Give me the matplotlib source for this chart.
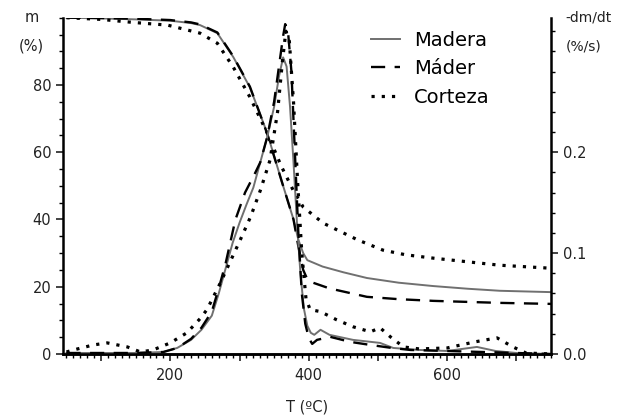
import matplotlib
matplotlib.use("Agg")
import matplotlib.pyplot as plt
from matplotlib.ticker import MultipleLocator, FixedLocator, FuncFormatter
from matplotlib.lines import Line2D

# ---- Data ----
# TGA mass curves (m, %)
madera_tga_T = [50, 100, 150, 200, 230, 243, 268, 291, 315, 340, 360, 378, 385, 392, 398,
                420, 450, 484, 530, 580, 630, 676, 750]
madera_tga_m = [100, 99.8, 99.5, 99.1, 98.4, 97.8, 95.4, 88.3, 79.3, 65.7, 52, 40, 34, 30, 27.9,
                26.0, 24.3, 22.6, 21.2, 20.2, 19.4, 18.8, 18.4]

mader_tga_T = [50, 100, 150, 200, 230, 243, 268, 291, 315, 340, 360, 378, 385, 392, 398, 402,
               430, 484, 530, 580, 676, 750]
mader_tga_m = [100, 99.9, 99.7, 99.3, 98.6, 98.0, 95.6, 88.5, 79.5, 65.5, 52, 40, 32, 25, 22.2, 21.5,
               19.5, 17.0, 16.3, 15.8, 15.2, 14.9]

corteza_tga_T = [50, 100, 146, 196, 243, 268, 291, 315, 340, 360, 378, 392, 421, 435, 470, 507,
                 540, 580, 676, 750]
corteza_tga_m = [100, 99.5, 98.6, 97.8, 95.4, 92.4, 85.3, 76.4, 65.7, 56, 48.5, 43.7, 38.9, 37.5,
                 34.0, 30.9, 29.5, 28.5, 26.4, 25.5]

# DTG curves (-dm/dt, %/s)
madera_dtg_T = [50, 100, 150, 190, 210, 230, 245, 260, 270, 280, 290, 300, 310, 320, 330, 340,
                350, 357, 363, 368, 373, 378, 383, 388, 393, 398, 403, 408, 417, 430, 464,
                503, 522, 560, 600, 643, 670, 700, 750]
madera_dtg_v = [0.001, 0.001, 0.001, 0.002, 0.006, 0.014, 0.024, 0.038, 0.06, 0.085, 0.11, 0.13,
                0.148, 0.165, 0.19, 0.215, 0.245, 0.275, 0.294, 0.285, 0.245, 0.19, 0.13, 0.08,
                0.045, 0.028, 0.021, 0.019, 0.024, 0.019, 0.014, 0.011, 0.006, 0.004, 0.003,
                0.007, 0.003, 0.001, 0.0]

mader_dtg_T = [50, 100, 150, 190, 210, 230, 245, 260, 270, 280, 294, 308, 323, 330, 340, 350,
               358, 363, 366, 370, 375, 380, 385, 390, 395, 400, 405, 412, 431, 460, 489,
               520, 547, 600, 650, 700, 750]
mader_dtg_v = [0.001, 0.001, 0.001, 0.002, 0.006, 0.015, 0.026, 0.042, 0.065, 0.09, 0.133, 0.16,
               0.18, 0.19, 0.215, 0.25, 0.29, 0.315, 0.327, 0.32, 0.28, 0.2, 0.12, 0.06, 0.03,
               0.016, 0.01, 0.014, 0.017, 0.012, 0.009, 0.006, 0.004, 0.003, 0.002, 0.001, 0.0]

corteza_dtg_T = [50, 60, 89, 109, 138, 157, 175, 200, 224, 243, 253, 272, 301, 316, 330, 344,
                 355, 362, 367, 372, 378, 384, 390, 396, 402, 417, 440, 464, 489, 503, 518,
                 537, 560, 600, 640, 672, 695, 714, 750]
corteza_dtg_v = [0.002, 0.004, 0.009, 0.011, 0.007, 0.002, 0.004, 0.011, 0.021, 0.035, 0.044,
                 0.07, 0.113, 0.136, 0.162, 0.192, 0.24, 0.29, 0.32, 0.31, 0.25, 0.17, 0.1,
                 0.055, 0.044, 0.042, 0.034, 0.027, 0.022, 0.026, 0.017, 0.007, 0.005, 0.006,
                 0.012, 0.016, 0.007, 0.001, 0.0]

legend_labels = ["Madera", "Máder", "Corteza"]
x_tick_labels = ["200", "400", "600"]

# ---- Figure ----
fig = plt.figure(figsize=(6.24, 4.19), dpi=100)
ax = fig.add_axes([63 / 624, 1 - 354 / 419, (551 - 63) / 624, (354 - 17.7) / 419])
ax2 = ax.twinx()

solid = dict(color="#707070", lw=1.4, ls="-")
dashed = dict(color="black", lw=1.7, ls=(0, (6, 4)))
dotted = dict(color="black", lw=2.3, ls=(0, (1, 2.2)))

ax.plot(madera_tga_T, madera_tga_m, **solid)
ax.plot(mader_tga_T, mader_tga_m, **dashed)
ax.plot(corteza_tga_T, corteza_tga_m, **dotted)

ax2.plot(madera_dtg_T, madera_dtg_v, **solid)
ax2.plot(mader_dtg_T, mader_dtg_v, **dashed)
ax2.plot(corteza_dtg_T, corteza_dtg_v, **dotted)

ax.set_xlim(45, 750)
ax.set_ylim(0, 100)
ax2.set_ylim(0, 100 * 0.2 / 60)

for a in (ax, ax2):
    a.spines["top"].set_visible(False)
    for s in ("left", "right", "bottom"):
        a.spines[s].set_linewidth(1.8)
ax.spines["right"].set_visible(False)
ax2.spines["left"].set_visible(False)

ax.xaxis.set_major_locator(MultipleLocator(100))
ax.xaxis.set_minor_locator(MultipleLocator(10))
ax.xaxis.set_major_formatter(FuncFormatter(lambda v, p: str(int(v)) if str(int(v)) in x_tick_labels else ""))
ax.yaxis.set_major_locator(FixedLocator([0, 20, 40, 60, 80]))
ax.yaxis.set_minor_locator(MultipleLocator(5))
ax2.yaxis.set_major_locator(FixedLocator([0.0, 0.1, 0.2]))
ax2.yaxis.set_minor_locator(MultipleLocator(0.02))
ax2.yaxis.set_major_formatter(FuncFormatter(lambda v, p: f"{v:.1f}"))

ax.tick_params(axis="both", which="major", labelsize=10.5, length=5, width=1.2, direction="out", colors="#222222")
ax.tick_params(axis="x", which="major", pad=5)
ax.tick_params(axis="both", which="minor", length=3, width=1.0, direction="out")
ax2.tick_params(axis="y", which="major", labelsize=10.5, length=5, width=1.2, direction="out", colors="#222222")
ax2.tick_params(axis="y", which="minor", length=3, width=1.0, direction="out")

ax.text(-0.05, 1.0, "m", transform=ax.transAxes, ha="right", va="center", fontsize=10.5, color="#222222")
ax.text(-0.04, 0.915, "(%)", transform=ax.transAxes, ha="right", va="center", fontsize=10.5, color="#222222")
ax2.text(1.03, 1.0, "-dm/dt", transform=ax.transAxes, ha="left", va="center", fontsize=10, color="#222222")
ax2.text(1.03, 0.915, "(%/s)", transform=ax.transAxes, ha="left", va="center", fontsize=10, color="#222222")
ax.set_xlabel("T (ºC)", fontsize=10.5, labelpad=12, color="#222222")

handles = [Line2D([], [], **solid), Line2D([], [], **dashed), Line2D([], [], **dotted)]
leg = ax2.legend(handles, legend_labels, loc="upper left", bbox_to_anchor=(0.615, 0.985),
                 frameon=False, fontsize=14, handlelength=1.5, handletextpad=0.7,
                 labelspacing=0.5, borderaxespad=0.0)

fig.savefig("out.png", dpi=100)
